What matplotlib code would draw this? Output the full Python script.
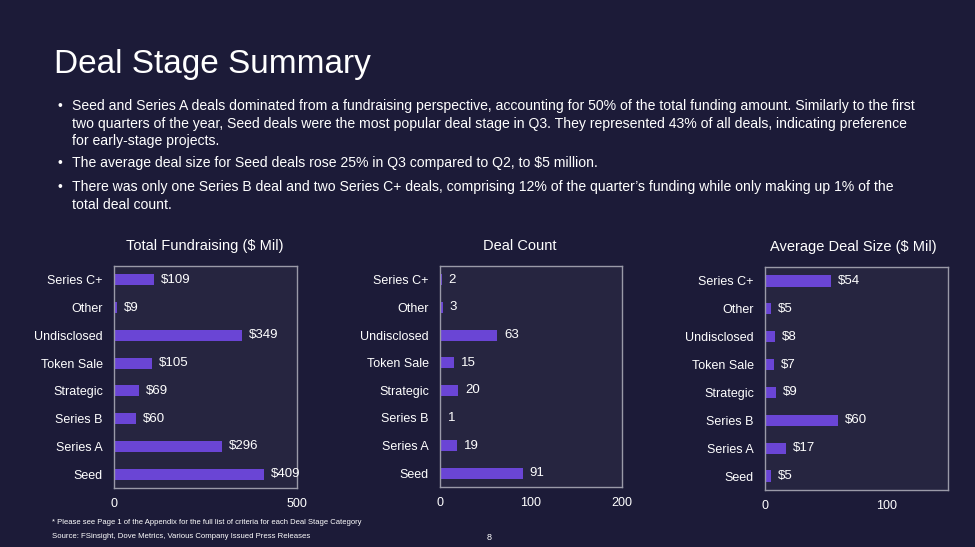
import matplotlib.pyplot as plt

plt.rcParams['font.family'] = ['Liberation Sans', 'DejaVu Sans']

categories = ['Seed', 'Series A', 'Series B', 'Strategic', 'Token Sale',
              'Undisclosed', 'Other', 'Series C+']
fundraising = [409, 296, 60, 69, 105, 349, 9, 109]
deal_count = [91, 19, 1, 20, 15, 63, 3, 2]
avg_deal_size = [5, 17, 60, 9, 7, 8, 5, 54]

bullets = [
    ['Seed and Series A deals dominated from a fundraising perspective, accounting for 50% of the total funding amount. Similarly to the first',
     'two quarters of the year, Seed deals were the most popular deal stage in Q3. They represented 43% of all deals, indicating preference',
     'for early-stage projects.'],
    ['The average deal size for Seed deals rose 25% in Q3 compared to Q2, to $5 million.'],
    ['There was only one Series B deal and two Series C+ deals, comprising 12% of the quarter\u2019s funding while only making up 1% of the',
     'total deal count.'],
]

BG = '#1c1b38'
PANEL = '#262540'
BAR = '#6a45d5'
EDGE = '#9a9aa8'
W, H = 975, 547

fig = plt.figure(figsize=(9.75, 5.47), dpi=100, facecolor=BG)


def px(x, y):
    return x / W, 1 - y / H


fig.text(*px(54, 64), 'Deal Stage Summary', color='white', fontsize=24,
         va='center', ha='left')

line_ys = [[106, 124, 141], [163], [187, 205]]
for lines, ys in zip(bullets, line_ys):
    fig.text(*px(57, ys[0]), '\u2022', color='white', fontsize=10, va='center')
    for txt, y in zip(lines, ys):
        fig.text(*px(72, y), txt, color='white', fontsize=10.1, va='center')

fig.text(*px(52, 523), '* Please see Page 1 of the Appendix for the full list of criteria for each Deal Stage Category',
         color='white', fontsize=5.5, va='center')
fig.text(*px(52, 537), 'Source: FSinsight, Dove Metrics, Various Company Issued Press Releases',
         color='white', fontsize=5.6, va='center')
fig.text(*px(487, 538), '8', color='white', fontsize=6.5, va='center')

# left, top, width, height (px), values, title, title centre x (px), xmax, ticks, prefix
panels = [
    (114, 266, 183, 222, fundraising, 'Total Fundraising ($ Mil)', 205, 500, [0, 500], '$'),
    (440, 266, 182, 221, deal_count, 'Deal Count', 520, 200, [0, 100, 200], ''),
    (765, 267, 183, 223, avg_deal_size, 'Average Deal Size ($ Mil)', 853, 150, [0, 100], '$'),
]

for left, top, w, h, vals, title, tx, xmax, ticks, prefix in panels:
    ax = fig.add_axes([left / W, 1 - (top + h) / H, w / W, h / H])
    ax.set_facecolor(PANEL)
    y = range(len(categories))
    ax.barh(y, vals, height=0.4, color=BAR)
    for yi, v in zip(y, vals):
        ax.annotate(f'{prefix}{v}', (v, yi), xytext=(5, 0), textcoords='offset points',
                    va='center', ha='left', color='white', fontsize=9.5)
    ax.set_xlim(0, xmax)
    ax.set_ylim(-0.5, len(categories) - 0.5)
    ax.set_xticks(ticks)
    ax.set_yticks(list(y))
    ax.set_yticklabels(categories)
    ax.tick_params(length=0, colors='white', labelsize=9)
    ax.tick_params(axis='y', pad=8)
    ax.tick_params(axis='x', pad=7)
    for s in ax.spines.values():
        s.set_color(EDGE)
        s.set_linewidth(1)
    fig.text(*px(tx, top - 20), title, color='white', fontsize=10.5,
             ha='center', va='center')

fig.savefig('out.png', dpi=100, facecolor=BG)
